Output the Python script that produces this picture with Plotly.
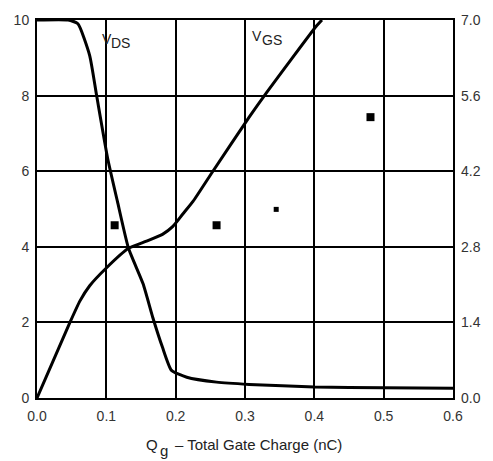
import plotly.graph_objects as go

# V_DS curve (left axis, V)
vds_q = [0.0, 0.045, 0.059, 0.076, 0.086, 0.102, 0.116, 0.132, 0.153, 0.167, 0.181, 0.194, 0.216, 0.259, 0.306, 0.4, 0.5, 0.6]
vds_v = [10.0, 10.0, 9.9, 9.06, 8.0, 6.33, 5.2, 3.96, 3.02, 2.13, 1.34, 0.73, 0.55, 0.42, 0.36, 0.29, 0.27, 0.26]

# V_GS curve (drawn on left scale)
vgs_q = [0.0, 0.0475, 0.062, 0.076, 0.1, 0.132, 0.158, 0.181, 0.196, 0.21, 0.225, 0.253, 0.306, 0.328, 0.403, 0.411]
vgs_v = [0.0, 2.0, 2.57, 2.97, 3.44, 3.96, 4.15, 4.33, 4.54, 4.86, 5.2, 5.98, 7.43, 8.0, 9.84, 10.0]

# stray square marks
mark_q = [0.112, 0.259, 0.481]
mark_v = [4.57, 4.57, 7.43]
small_q = [0.345]
small_v = [4.99]

x_ticks = [0.0, 0.1, 0.2, 0.3, 0.4, 0.5, 0.6]
y_ticks = [0, 2, 4, 6, 8, 10]
y2_ticks = [0.0, 1.4, 2.8, 4.2, 5.6, 7.0]
y2_labels = ["0.0", "1.4", "2.8", "4.2", "5.6", "7.0"]

FONT = "Liberation Sans, Arial, Helvetica, sans-serif"
TXT = dict(family=FONT, size=14, color="#222")
TTL = dict(family=FONT, size=15, color="#222")

fig = go.Figure()
fig.add_trace(go.Scatter(x=vds_q, y=vds_v, mode="lines", line=dict(color="black", width=3, shape="spline", smoothing=0.5), hoverinfo="skip"))
fig.add_trace(go.Scatter(x=vgs_q, y=vgs_v, mode="lines", line=dict(color="black", width=3, shape="spline", smoothing=0.5), hoverinfo="skip"))
fig.add_trace(go.Scatter(x=mark_q, y=mark_v, mode="markers", marker=dict(symbol="square", size=8, color="black"), hoverinfo="skip"))
fig.add_trace(go.Scatter(x=small_q, y=small_v, mode="markers", marker=dict(symbol="square", size=5, color="black"), hoverinfo="skip"))
fig.add_trace(go.Scatter(x=[0.3], y=[3.5], yaxis="y2", mode="markers", marker=dict(opacity=0), hoverinfo="skip"))

# curve labels: main letter plus lowered subscript
fig.add_annotation(x=0.091, y=9.51, text="V", showarrow=False, xanchor="left", yanchor="middle", font=TXT)
fig.add_annotation(x=0.104, y=9.38, text="DS", showarrow=False, xanchor="left", yanchor="middle", font=TXT)
fig.add_annotation(x=0.3065, y=9.57, text="V", showarrow=False, xanchor="left", yanchor="middle", font=TXT)
fig.add_annotation(x=0.321, y=9.46, text="GS", showarrow=False, xanchor="left", yanchor="middle", font=TXT)

# axis title: Q, subscript g, rest
fig.add_annotation(xref="paper", yref="paper", x=0.258, y=-0.122, text="Q", showarrow=False,
                   xanchor="left", yanchor="middle", font=TTL)
fig.add_annotation(xref="paper", yref="paper", x=0.29, y=-0.14, text="g", showarrow=False,
                   xanchor="left", yanchor="middle", font=TTL)
fig.add_annotation(xref="paper", yref="paper", x=0.326, y=-0.122, text="– Total Gate Charge (nC)", showarrow=False,
                   xanchor="left", yanchor="middle", font=TTL)

fig.update_layout(
    width=493, height=461,
    margin=dict(l=37, r=39, t=17, b=63),
    paper_bgcolor="white", plot_bgcolor="white",
    showlegend=False,
    font=dict(family=FONT, size=14, color="#333"),
    xaxis=dict(range=[0, 0.6], tickvals=x_ticks, tickformat=".1f",
               showgrid=True, gridcolor="black", gridwidth=2,
               showline=True, linecolor="black", linewidth=2, mirror=True,
               zeroline=False, ticks="", ticklen=0, ticklabelstandoff=4),
    yaxis=dict(range=[0, 10], tickvals=y_ticks,
               showgrid=True, gridcolor="black", gridwidth=2,
               showline=True, linecolor="black", linewidth=2, mirror=True,
               zeroline=False, ticks="", ticklen=0, ticklabelstandoff=3),
    yaxis2=dict(range=[0, 7], tickvals=y2_ticks, ticktext=y2_labels, overlaying="y", side="right",
                showgrid=False, zeroline=False, showline=False, ticks="", ticklen=0, ticklabelstandoff=7),
)

fig.write_html("out.html")
